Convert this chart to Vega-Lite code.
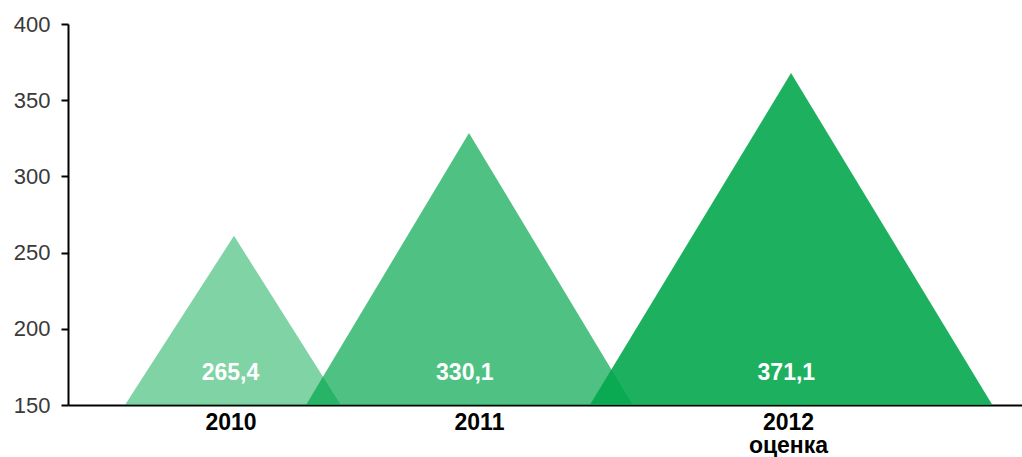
{
  "$schema": "https://vega.github.io/schema/vega-lite/v6.json",
  "width": 954,
  "height": 381,
  "autosize": "none",
  "padding": {"left": 68, "top": 24, "right": 0, "bottom": 52},
  "background": "white",
  "config": {"view": {"stroke": null}},
  "datasets": {
    "tri": [
      {"year": "2010", "x": 5.97, "v": 150},
      {"year": "2010", "x": 17.4, "v": 261},
      {"year": "2010", "x": 28.6, "v": 150},
      {"year": "2011", "x": 24.95, "v": 150},
      {"year": "2011", "x": 42.03, "v": 328.5},
      {"year": "2011", "x": 59.2, "v": 150},
      {"year": "2012", "x": 54.7, "v": 150},
      {"year": "2012", "x": 75.79, "v": 367.8},
      {"year": "2012", "x": 96.9, "v": 150}
    ],
    "labels": [
      {"year": "2010", "x": 17.03, "label": "265,4"},
      {"year": "2011", "x": 41.6, "label": "330,1"},
      {"year": "2012", "x": 75.3, "label": "371,1"}
    ]
  },
  "encoding": {
    "x": {
      "field": "x",
      "type": "quantitative",
      "scale": {"domain": [0, 100], "nice": false, "zero": false},
      "axis": {
        "title": null,
        "values": [17.03, 43.08, 75.47],
        "labelExpr": "datum.value < 30 ? '2010' : (datum.value < 60 ? '2011' : ['2012', 'оценка'])",
        "grid": false,
        "ticks": false,
        "domainColor": "#000000",
        "domainWidth": 2,
        "labelFont": "Liberation Sans",
        "labelFontWeight": "bold",
        "labelFontSize": 23,
        "labelColor": "#000000",
        "labelPadding": 6,
        "labelLineHeight": 23.5,
        "labelOverlap": false,
        "labelFlush": false
      }
    }
  },
  "layer": [
    {
      "data": {"name": "tri"},
      "mark": {"type": "area", "fill": "#00A74B", "opacity": 1, "line": false},
      "encoding": {
        "y": {
          "field": "v",
          "type": "quantitative",
          "scale": {"domain": [150, 400], "nice": false, "zero": false},
          "axis": {
            "title": null,
            "values": [150, 200, 250, 300, 350, 400],
            "grid": false,
            "domainColor": "#000000",
            "domainWidth": 2,
            "tickColor": "#000000",
            "tickWidth": 2,
            "tickSize": 7,
            "labelFont": "Liberation Sans",
            "labelFontSize": 22,
            "labelColor": "#3a3a3a",
            "labelPadding": 11
          }
        },
        "y2": {"datum": 150},
        "detail": {"field": "year"},
        "fillOpacity": {
          "field": "year",
          "type": "nominal",
          "scale": {"type": "ordinal", "domain": ["2010", "2011", "2012"], "range": [0.5, 0.69, 0.886]},
          "legend": null
        }
      }
    },
    {
      "data": {"name": "labels"},
      "mark": {"type": "text", "color": "#ffffff", "font": "Liberation Sans", "fontWeight": "bold", "fontSize": 23, "baseline": "middle", "align": "center"},
      "encoding": {
        "y": {"datum": 170.7},
        "text": {"field": "label"}
      }
    },
    {
      "data": {"values": [{}]},
      "mark": {"type": "rule", "color": "#000000", "strokeWidth": 2, "clip": false},
      "encoding": {
        "x": {"datum": 0},
        "y": {"datum": 144.8},
        "y2": {"datum": 405.2}
      }
    }
  ]
}
